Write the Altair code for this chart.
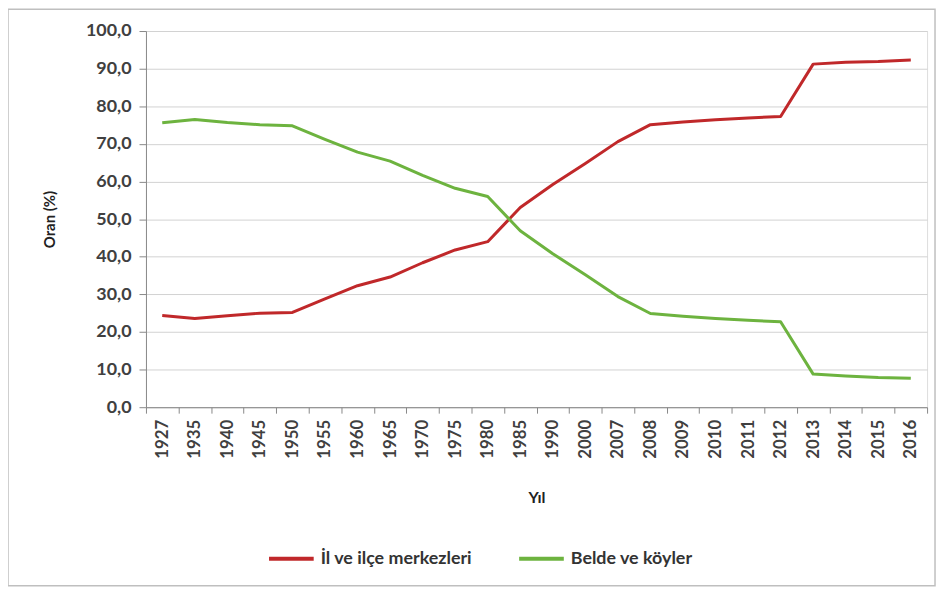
import altair as alt
import pandas as pd

years = ["1927", "1935", "1940", "1945", "1950", "1955", "1960", "1965", "1970", "1975",
         "1980", "1985", "1990", "2000", "2007", "2008", "2009", "2010", "2011", "2012",
         "2013", "2014", "2015", "2016"]
il_ilce = [24.4, 23.6, 24.3, 25.0, 25.2, 28.8, 32.3, 34.6, 38.4, 41.8,
           44.0, 53.1, 59.2, 64.8, 70.6, 75.1, 75.8, 76.4, 76.9, 77.3,
           91.2, 91.7, 91.9, 92.3]
belde_koy = [75.6, 76.5, 75.7, 75.1, 74.8, 71.2, 67.8, 65.4, 61.6, 58.2,
             56.0, 46.9, 40.8, 35.2, 29.4, 24.9, 24.2, 23.6, 23.1, 22.7,
             8.8, 8.3, 7.9, 7.7]
series_names = ["İl ve ilçe merkezleri", "Belde ve köyler"]
colors = ["#C0282A", "#6DB33F"]

rows = []
for i, y in enumerate(years):
    rows.append({"Yıl": y, "Seri": series_names[0], "Oran": il_ilce[i]})
    rows.append({"Yıl": y, "Seri": series_names[1], "Oran": belde_koy[i]})
df = pd.DataFrame(rows)

W, H = 787, 379
FONT = "Lato"

lines = alt.Chart(df).mark_line(strokeWidth=3, strokeJoin="round").encode(
    x=alt.X("Yıl:N", sort=years,
            scale=alt.Scale(paddingInner=0, paddingOuter=0),
            axis=alt.Axis(title="Yıl", labelAngle=-90, labelAlign="right", labelBaseline="middle",
                          labelFontSize=17, labelFont=FONT, labelColor="#404040", labelFontWeight="bold",
                          labelPadding=6,
                          tickBand="extent", tickSize=6, tickColor="#888888", domainColor="#888888",
                          titleFont=FONT, titleFontSize=16, titleFontWeight="bold", titleColor="#222222",
                          titlePadding=32, grid=False)),
    y=alt.Y("Oran:Q", scale=alt.Scale(domain=[0, 100], nice=False),
            axis=alt.Axis(title="Oran (%)", values=list(range(0, 101, 10)),
                          labelExpr="replace(format(datum.value, '.1f'), '.', ',')",
                          labelFontSize=18, labelFont=FONT, labelColor="#404040", labelFontWeight="bold",
                          labelPadding=8,
                          tickSize=7, tickColor="#888888", domainColor="#888888",
                          grid=True, gridColor="#D2D2D2", gridWidth=1,
                          titleFont=FONT, titleFontSize=15, titleFontWeight="bold", titleColor="#222222",
                          titlePadding=28)),
    color=alt.Color("Seri:N", sort=series_names,
                    scale=alt.Scale(domain=series_names, range=colors),
                    legend=alt.Legend(title=None, orient="none", direction="horizontal",
                                      legendX=122, legendY=507,
                                      symbolType="stroke", symbolSize=2025, symbolStrokeWidth=4,
                                      labelFont=FONT, labelFontSize=18, labelColor="#333333",
                                      labelFontWeight="bold", columnPadding=39, labelOffset=5)),
)

border = alt.Chart(pd.DataFrame({"a": [0]})).mark_rect(
    fill=None, stroke="#BFBFBF", strokeWidth=1.5, clip=False
).encode(
    x=alt.value(-139), x2=alt.value(W + 8),
    y=alt.value(-22), y2=alt.value(H + 180),
)

chart = alt.layer(border, lines).properties(
    width=W, height=H,
    autosize=alt.AutoSizeParams(type="none"),
    padding={"left": 139, "top": 21, "right": 10, "bottom": 184},
).configure_view(stroke=None).configure(background="white")

chart.save("out.html", embed_options={"renderer": "svg", "actions": False})
